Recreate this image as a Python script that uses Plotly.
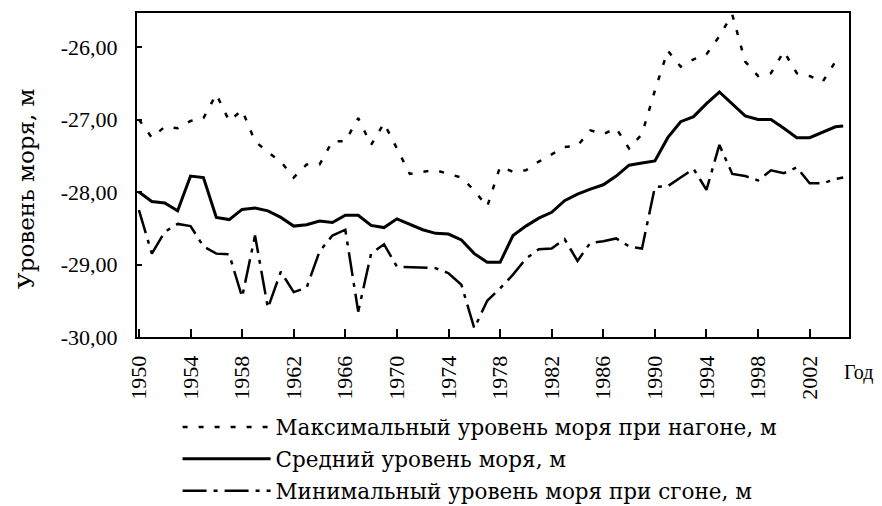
import plotly.graph_objects as go

years = list(range(1950, 2005)) + [2004.6]

max_level = [-27.0, -27.25, -27.1, -27.12, -27.02, -26.98, -26.65, -27.02, -26.87, -27.3,
             -27.45, -27.58, -27.8, -27.62, -27.62, -27.3, -27.3, -26.98, -27.35, -27.05,
             -27.4, -27.75, -27.72, -27.7, -27.75, -27.8, -27.98, -28.2, -27.65, -27.72,
             -27.7, -27.58, -27.48, -27.38, -27.36, -27.15, -27.2, -27.12, -27.4, -27.2,
             -26.6, -26.05, -26.27, -26.17, -26.1, -25.85, -25.55, -26.2, -26.4, -26.36,
             -26.06, -26.36, -26.4, -26.48, -26.2, -26.15]

mean_level = [-28.0, -28.13, -28.15, -28.26, -27.78, -27.8, -28.35, -28.38, -28.24, -28.22,
              -28.26, -28.35, -28.47, -28.45, -28.4, -28.42, -28.32, -28.32, -28.46, -28.49,
              -28.37, -28.44, -28.52, -28.57, -28.58, -28.66, -28.85, -28.97, -28.97, -28.6,
              -28.47, -28.36, -28.28, -28.12, -28.03, -27.96, -27.9, -27.78, -27.63, -27.6,
              -27.57, -27.25, -27.03, -26.96, -26.78, -26.62, -26.78, -26.95, -27.0, -27.0,
              -27.12, -27.25, -27.25, -27.18, -27.1, -27.09]

min_level = [-28.25, -28.85, -28.55, -28.44, -28.47, -28.75, -28.85, -28.86, -29.45, -28.6,
             -29.6, -29.1, -29.38, -29.32, -28.82, -28.6, -28.52, -29.65, -28.85, -28.72,
             -29.03, -29.04, -29.04, -29.05, -29.12, -29.28, -29.88, -29.5, -29.33, -29.14,
             -28.92, -28.79, -28.78, -28.65, -28.95, -28.7, -28.68, -28.64, -28.75, -28.78,
             -27.93, -27.92, -27.8, -27.68, -27.97, -27.35, -27.75, -27.78, -27.84, -27.7,
             -27.74, -27.66, -27.88, -27.88, -27.82, -27.8]

series_names = ["Максимальный уровень моря при нагоне, м",
                "Средний уровень моря, м",
                "Минимальный уровень моря при сгоне, м"]

x_tick_vals = list(range(1950, 2003, 4))
y_tick_vals = [-30, -29, -28, -27, -26]
y_tick_text = ["-30,00", "-29,00", "-28,00", "-27,00", "-26,00"]

y_title = "Уровень моря, м"
x_title = "Год"

fig = go.Figure()
fig.add_trace(go.Scatter(x=years, y=max_level, mode="lines", name=series_names[0],
                         legendgroup="a",
                         line=dict(color="black", width=2.5, dash="5px,11px")))
fig.add_trace(go.Scatter(x=years, y=mean_level, mode="lines", name=series_names[1],
                         legendgroup="b",
                         line=dict(color="black", width=3)))
fig.add_trace(go.Scatter(x=years, y=min_level, mode="lines", name=series_names[2],
                         legendgroup="c",
                         line=dict(color="black", width=2.5, dash="24px,7px,4px,7px")))

tick_font = dict(family="Liberation Serif", size=22, color="black")

# page body has an 8px margin, so the figure is 8px smaller than the window
fig.update_layout(
    width=874, height=498,
    margin=dict(l=129, r=33, t=5, b=169),
    paper_bgcolor="white", plot_bgcolor="white",
    showlegend=True,
    legend=dict(x=0.057, y=0.2, xref="paper", yref="container",
                xanchor="left", yanchor="top",
                font=dict(family="DejaVu Serif", size=21.5, color="black"),
                itemwidth=88, tracegroupgap=1, bgcolor="rgba(0,0,0,0)"),
    xaxis=dict(range=[1949.85, 2005.05], tickmode="array", tickvals=x_tick_vals,
               tickangle=-90, ticks="inside", ticklen=8, tickwidth=2, tickcolor="black",
               ticklabelstandoff=8, automargin=False,
               showline=True, linecolor="black", linewidth=2, mirror=True,
               showgrid=False, zeroline=False, tickfont=tick_font),
    yaxis=dict(range=[-30, -25.53], tickmode="array", tickvals=y_tick_vals,
               ticktext=y_tick_text, ticks="inside", ticklen=5, tickwidth=2,
               tickcolor="black", ticklabelstandoff=13, automargin=False, showline=True,
               linecolor="black", linewidth=2, mirror=True, showgrid=False,
               zeroline=False, tickfont=tick_font),
    annotations=[
        dict(text=x_title, xref="paper", yref="paper", x=0.99, y=-0.11,
             xanchor="left", yanchor="middle", showarrow=False,
             font=dict(family="Liberation Serif", size=20, color="black")),
        dict(text=y_title, xref="paper", yref="paper", x=-0.156, y=0.46,
             xanchor="center", yanchor="middle", textangle=-90, showarrow=False,
             font=dict(family="DejaVu Serif", size=23, color="black")),
    ],
)

fig.write_html("out.html")
